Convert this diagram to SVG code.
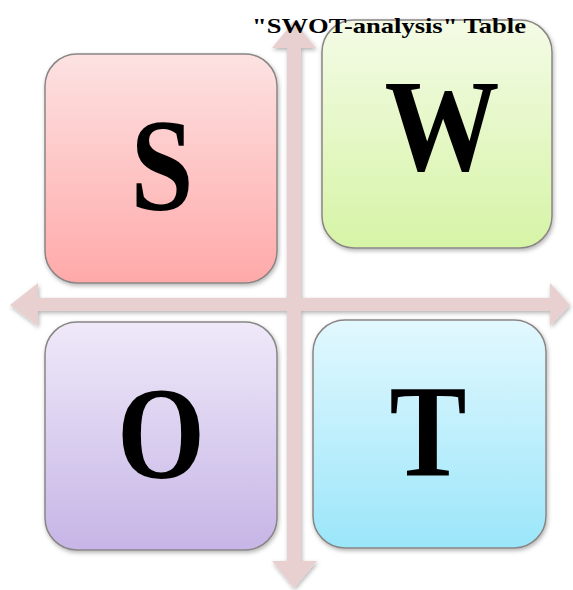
<svg xmlns="http://www.w3.org/2000/svg" width="573" height="590" viewBox="0 0 573 590">
<defs>
<linearGradient id="gS" x1="0" y1="0" x2="0" y2="1"><stop offset="0" stop-color="#fde2e2"/><stop offset="1" stop-color="#ffa9a9"/></linearGradient>
<linearGradient id="gW" x1="0" y1="0" x2="0" y2="1"><stop offset="0" stop-color="#f4fbe6"/><stop offset="1" stop-color="#d6f4a6"/></linearGradient>
<linearGradient id="gO" x1="0" y1="0" x2="0" y2="1"><stop offset="0" stop-color="#efe9f9"/><stop offset="1" stop-color="#c6b5e6"/></linearGradient>
<linearGradient id="gT" x1="0" y1="0" x2="0" y2="1"><stop offset="0" stop-color="#e2f8fe"/><stop offset="1" stop-color="#9be6fa"/></linearGradient>
<filter id="sh" x="-10%" y="-10%" width="120%" height="120%"><feDropShadow dx="1" dy="2" stdDeviation="2" flood-color="#000" flood-opacity="0.3"/></filter>
</defs>
<style>
.box{stroke:#8a8585;stroke-width:1.5;filter:url(#sh)}
.big{font-family:'Liberation Serif','Times New Roman',Times,serif;font-weight:700;font-size:132px;text-anchor:middle;fill:#000}
.arr{fill:#e8d0d0;filter:url(#sh)}
.title{font-family:'Liberation Serif','Times New Roman',Times,serif;font-weight:700;font-size:21px;fill:#000}
</style>
<g id="connectors">
<path class="arr" d="M10,305 L38,283 L38,298 L287,298 L287,48 L272,48 L294,21 L316,48 L301,48 L301,298 L550,298 L550,283 L570,305 L550,326 L550,311 L301,311 L301,561 L317,561 L294,588 L272,561 L287,561 L287,311 L38,311 L38,326 Z"/>
</g>
<g id="S"><rect class="box" x="45" y="54" width="232" height="229" rx="32" fill="url(#gS)"/><text class="big" x="162" y="210" textLength="63" lengthAdjust="spacingAndGlyphs">S</text></g>
<g id="W"><rect class="box" x="322" y="20" width="230" height="228" rx="32" fill="url(#gW)"/><text class="big" x="442" y="170" textLength="115" lengthAdjust="spacingAndGlyphs">W</text></g>
<g id="O"><rect class="box" x="45" y="322" width="232" height="228" rx="32" fill="url(#gO)"/><text class="big" x="161" y="478" textLength="88" lengthAdjust="spacingAndGlyphs">O</text></g>
<g id="T"><rect class="box" x="313" y="320" width="233" height="228" rx="32" fill="url(#gT)"/><text class="big" x="428" y="475" textLength="77" lengthAdjust="spacingAndGlyphs">T</text></g>
<g id="title"><text class="title" x="252" y="33" textLength="274" lengthAdjust="spacingAndGlyphs">"SWOT-analysis" Table</text></g>
</svg>
